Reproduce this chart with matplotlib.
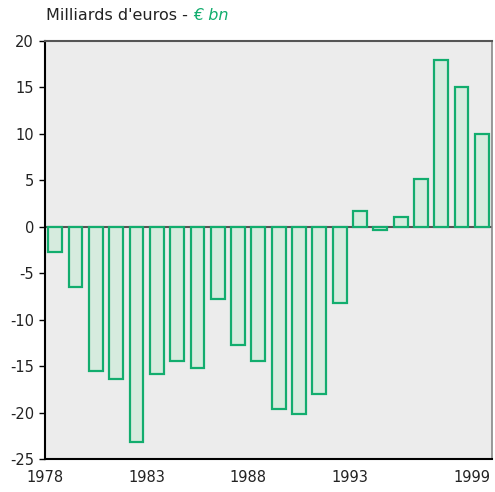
import matplotlib
matplotlib.use('Agg')
import matplotlib.pyplot as plt
import numpy as np

years = list(range(1978, 2000))
values = [-2.7, -6.5, -15.5, -16.4, -23.2, -15.9, -14.4, -15.2, -7.8, -12.7, -14.4,
          -19.6, -20.2, -18.0, -8.2, 1.7, -0.4, 1.0, 5.1, 17.9, 15.0, 10.0]
tick_years = [1978, 1983, 1988, 1993, 1999]
yticks = [-25, -20, -15, -10, -5, 0, 5, 10, 15, 20]

plt.rcParams['font.family'] = ['DejaVu Sans']

fig = plt.figure(figsize=(4.95, 4.92), dpi=100)
ax = fig.add_axes([0.091, 0.067, 0.903, 0.85])
ax.set_facecolor('#ececec')

x = np.arange(len(years))
ax.bar(x, values, width=0.68, color='#d6ebde', edgecolor='#12ad6e', linewidth=1.6, zorder=3)
ax.axhline(0, color='#555555', linewidth=1.5, zorder=2)

ax.set_xlim(-0.5, len(years) - 0.5)
ax.set_ylim(-25, 20)
ax.set_yticks(yticks)
ax.set_yticklabels([str(v) for v in yticks])
ax.set_xticks([years.index(y) - 0.5 for y in tick_years])
ax.set_xticklabels([str(y) for y in tick_years])
ax.tick_params(axis='both', labelsize=10.5, colors='#222222')
ax.tick_params(axis='y', length=4, width=1, color='black', pad=4)
ax.tick_params(axis='x', length=0, pad=8)

ax.spines['left'].set_color('black')
ax.spines['bottom'].set_color('black')
ax.spines['left'].set_linewidth(1.5)
ax.spines['bottom'].set_linewidth(1.5)
ax.spines['top'].set_color('#555555')
ax.spines['right'].set_color('#888888')
ax.spines['top'].set_linewidth(1.5)
ax.spines['right'].set_linewidth(1.2)

fig.text(0.093, 0.968, "Milliards d'euros - ", fontsize=11.5, color='#222222', va='center')
t = fig.text(0.093, 0.968, "Milliards d'euros - ", fontsize=11.5, color='none', va='center')
fig.canvas.draw()
bb = t.get_window_extent()
fig.text(bb.x1 / fig.bbox.width, 0.968, "€ bn", fontsize=11.5, color='#12ad6e',
         style='italic', va='center')

fig.savefig('out.png', dpi=100)
